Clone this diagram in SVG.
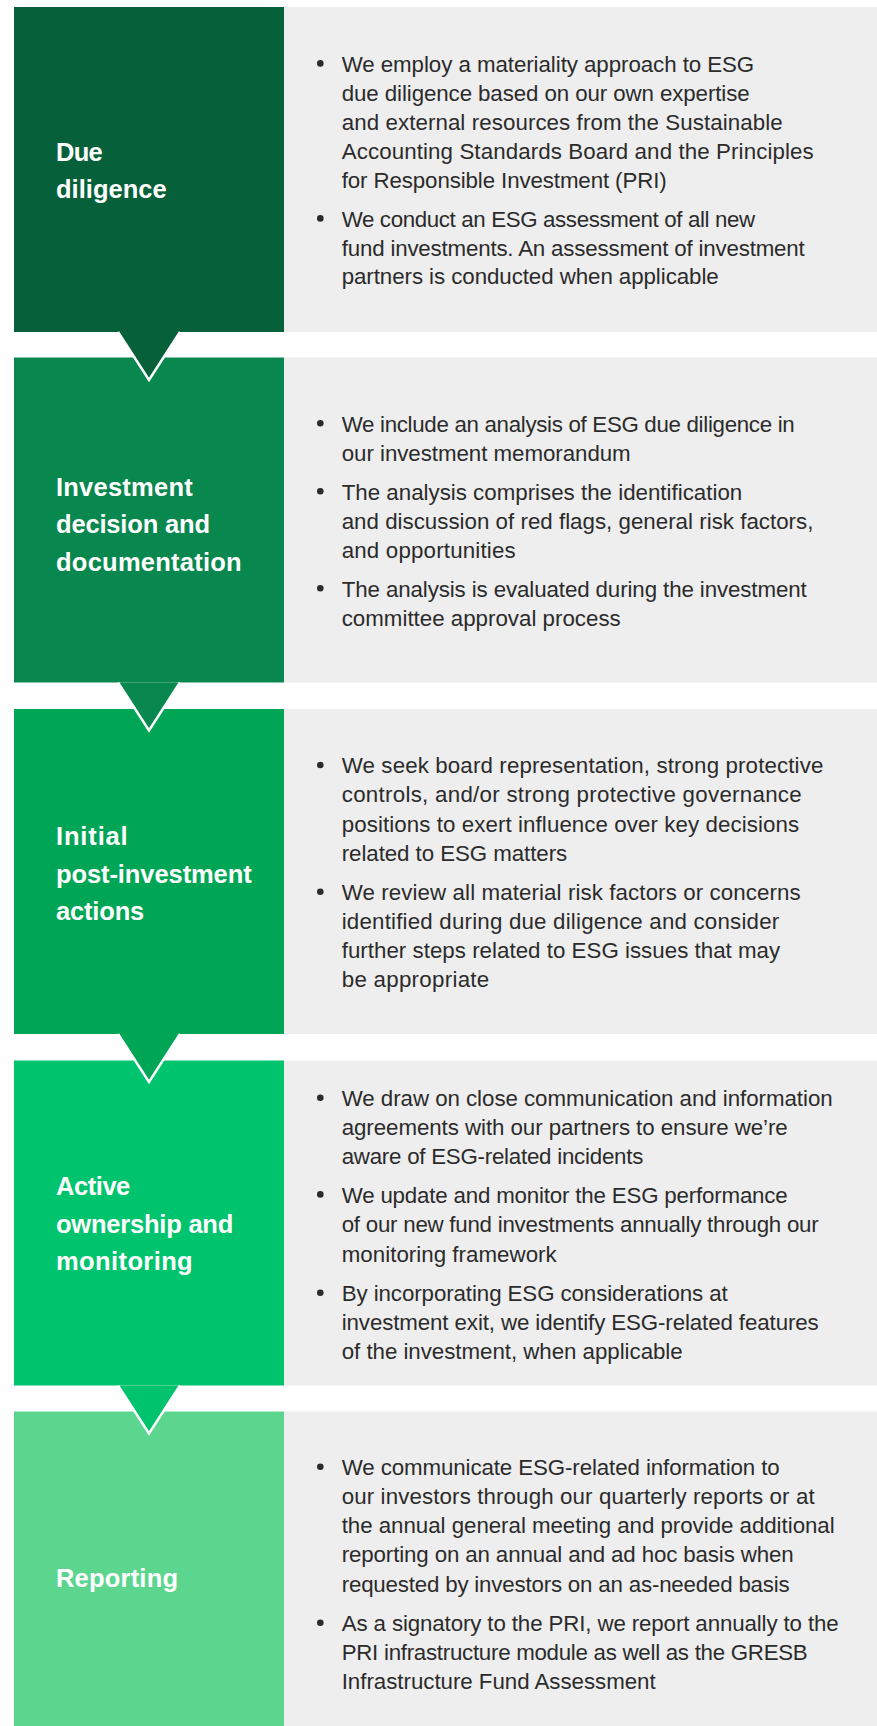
<svg xmlns="http://www.w3.org/2000/svg" width="877" height="1726" viewBox="0 0 877 1726">
  <style>
    .panel { fill: #eeeeee; }
    .head { font-family: "Liberation Sans", Arial, sans-serif; font-weight: bold; font-size: 25.5px; fill: #ffffff; }
    .body { font-family: "Liberation Sans", Arial, sans-serif; font-size: 22.3px; fill: #2b2b2b; }
    .dot { fill: #2b2b2b; }
    .s1 { fill: #06613a; }
    .s2 { fill: #08874f; }
    .s3 { fill: #00a655; }
    .s4 { fill: #00c36d; }
    .s5 { fill: #5cd68f; }
    .arrow { stroke: #ffffff; stroke-width: 2.5; stroke-linejoin: miter; }
  </style>
  <rect width="877" height="1726" fill="#ffffff"/>

  <!-- Stage 1 -->
  <g id="due-diligence">
    <rect class="s1" x="14" y="7" width="270" height="325"/>
    <rect class="panel" x="284" y="7" width="593" height="325"/>
    <text class="head" x="56" y="160.7" textLength="46.7">Due</text>
    <text class="head" x="56" y="198.3" textLength="110.7">diligence</text>
    <circle class="dot" cx="320.3" cy="63.4" r="3.3"/>
    <circle class="dot" cx="320.3" cy="218.4" r="3.3"/>
    <text class="body" x="341.7" y="71.7" textLength="412.5">We employ a materiality approach to ESG</text>
    <text class="body" x="341.7" y="100.7" textLength="408">due diligence based on our own expertise</text>
    <text class="body" x="341.7" y="129.5" textLength="441">and external resources from the Sustainable</text>
    <text class="body" x="341.7" y="158.6" textLength="472">Accounting Standards Board and the Principles</text>
    <text class="body" x="341.7" y="187.7" textLength="325">for Responsible Investment (PRI)</text>
    <text class="body" x="341.7" y="226.7" textLength="413.5">We conduct an ESG assessment of all new</text>
    <text class="body" x="341.7" y="255.5" textLength="463">fund investments. An assessment of investment</text>
    <text class="body" x="341.7" y="284.4" textLength="377">partners is conducted when applicable</text>
  </g>

  <!-- Stage 2 -->
  <g id="investment-decision">
    <rect class="s2" x="14" y="357.5" width="270" height="325"/>
    <rect class="panel" x="284" y="357.5" width="593" height="325"/>
    <text class="head" x="56" y="496" textLength="136.7">Investment</text>
    <text class="head" x="56" y="533.3" textLength="154">decision and</text>
    <text class="head" x="56" y="571" textLength="185.7">documentation</text>
    <circle class="dot" cx="320.3" cy="423.3" r="3.3"/>
    <circle class="dot" cx="320.3" cy="491.2" r="3.3"/>
    <circle class="dot" cx="320.3" cy="588.3" r="3.3"/>
    <text class="body" x="341.7" y="431.6" textLength="453">We include an analysis of ESG due diligence in</text>
    <text class="body" x="341.7" y="460.6" textLength="289">our investment memorandum</text>
    <text class="body" x="341.7" y="499.5" textLength="400.5">The analysis comprises the identification</text>
    <text class="body" x="341.7" y="528.5" textLength="471.7">and discussion of red flags, general risk factors,</text>
    <text class="body" x="341.7" y="557.5" textLength="174">and opportunities</text>
    <text class="body" x="341.7" y="596.6" textLength="465">The analysis is evaluated during the investment</text>
    <text class="body" x="341.7" y="626" textLength="279">committee approval process</text>
  </g>

  <!-- Stage 3 -->
  <g id="initial-post-investment">
    <rect class="s3" x="14" y="709" width="270" height="325"/>
    <rect class="panel" x="284" y="709" width="593" height="325"/>
    <text class="head" x="56" y="845" textLength="71.7">Initial</text>
    <text class="head" x="56" y="882.7" textLength="195.7">post-investment</text>
    <text class="head" x="56" y="920" textLength="88.3">actions</text>
    <circle class="dot" cx="320.3" cy="765" r="3.3"/>
    <circle class="dot" cx="320.3" cy="891.7" r="3.3"/>
    <text class="body" x="341.7" y="773.3" textLength="481.7">We seek board representation, strong protective</text>
    <text class="body" x="341.7" y="802.4" textLength="460">controls, and/or strong protective governance</text>
    <text class="body" x="341.7" y="831.6" textLength="457.5">positions to exert influence over key decisions</text>
    <text class="body" x="341.7" y="860.7" textLength="225.5">related to ESG matters</text>
    <text class="body" x="341.7" y="900" textLength="459">We review all material risk factors or concerns</text>
    <text class="body" x="341.7" y="929.2" textLength="437.5">identified during due diligence and consider</text>
    <text class="body" x="341.7" y="958.3" textLength="438.5">further steps related to ESG issues that may</text>
    <text class="body" x="341.7" y="987.3" textLength="147.5">be appropriate</text>
  </g>

  <!-- Stage 4 -->
  <g id="active-ownership">
    <rect class="s4" x="14" y="1060.5" width="270" height="325"/>
    <rect class="panel" x="284" y="1060.5" width="593" height="325"/>
    <text class="head" x="56" y="1195" textLength="74.3">Active</text>
    <text class="head" x="56" y="1233.3" textLength="177.3">ownership and</text>
    <text class="head" x="56" y="1270" textLength="136.7">monitoring</text>
    <circle class="dot" cx="320.3" cy="1097.7" r="3.3"/>
    <circle class="dot" cx="320.3" cy="1194.4" r="3.3"/>
    <circle class="dot" cx="320.3" cy="1292.7" r="3.3"/>
    <text class="body" x="341.7" y="1106" textLength="491">We draw on close communication and information</text>
    <text class="body" x="341.7" y="1135" textLength="446">agreements with our partners to ensure we’re</text>
    <text class="body" x="341.7" y="1164" textLength="301.6">aware of ESG-related incidents</text>
    <text class="body" x="341.7" y="1202.7" textLength="446">We update and monitor the ESG performance</text>
    <text class="body" x="341.7" y="1232.4" textLength="477">of our new fund investments annually through our</text>
    <text class="body" x="341.7" y="1261.7" textLength="215">monitoring framework</text>
    <text class="body" x="341.7" y="1301" textLength="386">By incorporating ESG considerations at</text>
    <text class="body" x="341.7" y="1330" textLength="477">investment exit, we identify ESG-related features</text>
    <text class="body" x="341.7" y="1359.3" textLength="341">of the investment, when applicable</text>
  </g>

  <!-- Stage 5 -->
  <g id="reporting">
    <rect class="s5" x="14" y="1411.5" width="270" height="314.5"/>
    <rect class="panel" x="284" y="1411.5" width="593" height="314.5"/>
    <text class="head" x="56" y="1586.7" textLength="122">Reporting</text>
    <circle class="dot" cx="320.3" cy="1466.7" r="3.3"/>
    <circle class="dot" cx="320.3" cy="1622.7" r="3.3"/>
    <text class="body" x="341.7" y="1475" textLength="438">We communicate ESG-related information to</text>
    <text class="body" x="341.7" y="1504" textLength="473">our investors through our quarterly reports or at</text>
    <text class="body" x="341.7" y="1533" textLength="493">the annual general meeting and provide additional</text>
    <text class="body" x="341.7" y="1562.3" textLength="452">reporting on an annual and ad hoc basis when</text>
    <text class="body" x="341.7" y="1591.7" textLength="448">requested by investors on an as-needed basis</text>
    <text class="body" x="341.7" y="1631" textLength="497">As a signatory to the PRI, we report annually to the</text>
    <text class="body" x="341.7" y="1660" textLength="466">PRI infrastructure module as well as the GRESB</text>
    <text class="body" x="341.7" y="1689.3" textLength="314">Infrastructure Fund Assessment</text>
  </g>

  <!-- Downward pointers from each stage into the next -->
  <g id="connectors">
    <path class="s1 arrow" d="M118,332 L149,380 L180,332"/>
    <path class="s2 arrow" d="M118,682.5 L149,730.5 L180,682.5"/>
    <path class="s3 arrow" d="M118,1034 L149,1082 L180,1034"/>
    <path class="s4 arrow" d="M118,1385.5 L149,1433.5 L180,1385.5"/>
  </g>
</svg>
